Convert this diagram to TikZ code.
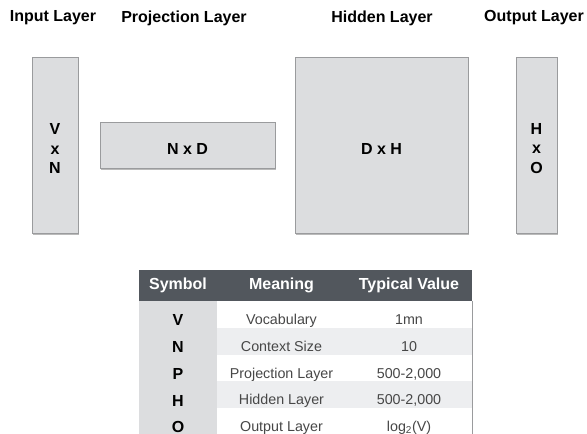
\documentclass[tikz,border=0pt]{standalone}
\usepackage{fontspec}
\setmainfont{Liberation Sans}
\usetikzlibrary{positioning, shadows}

\definecolor{layerfill}{HTML}{DCDDDF}
\definecolor{layerline}{HTML}{9A9B9D}
\definecolor{headfill}{HTML}{52575D}
\definecolor{rowfill}{HTML}{EDEEF0}
\definecolor{celltext}{HTML}{474747}

\begin{document}
\begin{tikzpicture}[x=1pt, y=-1pt, font=\bfseries\fontsize{16}{19.5}\selectfont]

    % Define the styles for the layers and the table
    \tikzset{layer/.style={draw=layerline, fill=layerfill, line width=0.8pt, inner sep=0pt,
                 drop shadow={shadow xshift=0.8pt, shadow yshift=-2pt, fill=black!45, opacity=0.6}},
             dims/.style={align=center, yshift=-3.5pt},
             cell/.style={minimum height=26.8pt, inner sep=0pt, outer sep=0pt},
             headcell/.style={cell, fill=headfill, text=white, minimum height=31pt},
             symcell/.style={cell, fill=layerfill, minimum width=78pt, text height=22.5pt, text depth=0pt},
             textcell/.style={cell, text=celltext, text height=20pt, text depth=0pt,
                 font=\mdseries\fontsize{14.3}{16}\selectfont}}

    \useasboundingbox (0,0) rectangle (587,434);
    \clip (0,0) rectangle (587,434);

    % Titles
    \node (tinput) at (53,18) {Input Layer};
    \node (tproj) at (184,18) {Projection Layer};
    \node (thidden) at (382,18) {Hidden Layer};
    \node (toutput) at (534,18) {Output Layer};

    % Layers
    \node[layer, minimum width=46pt, minimum height=176pt, label={[dims]center:V\\x\\N}] (input) at (55,145) {};
    \node[layer, minimum width=175pt, minimum height=46pt, label={[dims]center:N x D}] (proj) at (187.5,145) {};
    \node[layer, minimum width=173pt, minimum height=176pt, label={[dims]center:D x H}] (hidden) at (381.5,145) {};
    \node[layer, minimum width=41pt, minimum height=176pt, label={[dims]center:H\\x\\O}] (output) at (536.5,145) {};

    % Table header
    \node[headcell, minimum width=78pt] (hsym) at (178,285.5) {Symbol};
    \node[headcell, minimum width=129pt] (hmean) at (281.5,285.5) {Meaning};
    \node[headcell, minimum width=126pt] (hval) at (409,285.5) {Typical Value};

    % Table rows
    \foreach \sym/\mean/\val [count=\i from 0] in {V/Vocabulary/1mn, N/Context Size/10,
            {P/Projection Layer/500-2,000}, {H/Hidden Layer/500-2,000},
            {O/Output Layer/log\textsubscript{2}(V)}} {
        \pgfmathsetmacro{\yy}{314.4+26.8*\i}
        \ifodd\i \def\rowcol{rowfill}\else \def\rowcol{white}\fi
        \node[symcell] (sym\i) at (178,\yy) {\sym};
        \node[textcell, fill=\rowcol, minimum width=129pt] (mean\i) at (281.5,\yy) {\mean};
        \node[textcell, fill=\rowcol, minimum width=126pt] (val\i) at (409,\yy) {\val};
    }
    \draw[layerline, line width=0.8pt] (hval.south east) -- (val4.south east);
\end{tikzpicture}
\end{document}
